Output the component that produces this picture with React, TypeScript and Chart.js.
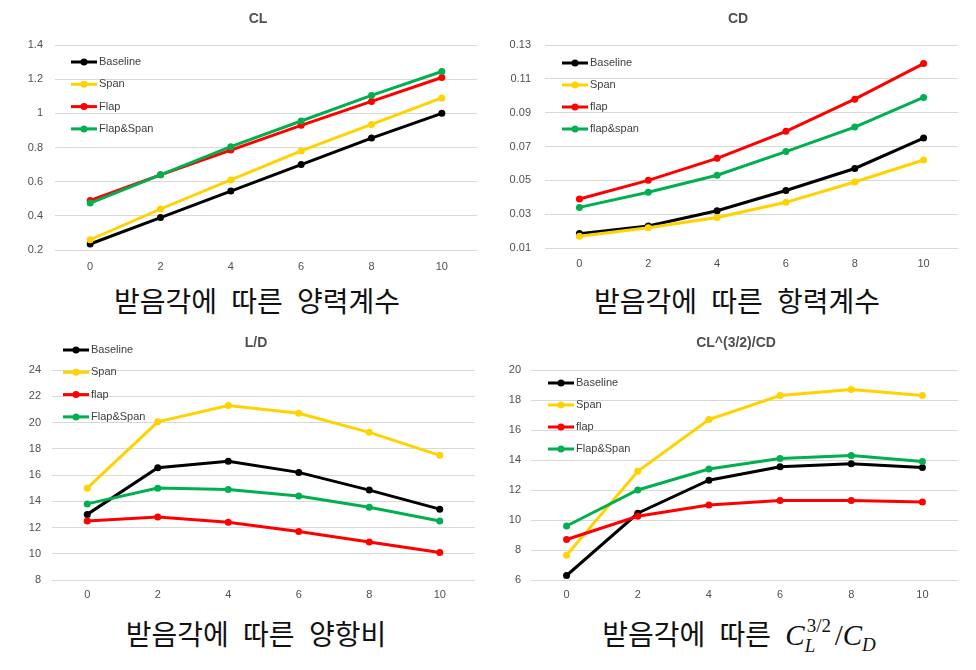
import React, { useEffect, useRef } from 'react';
import { Chart, registerables } from 'chart.js';
Chart.register(...registerables);

// ---------- data ----------
const angles = ['0', '2', '4', '6', '8', '10'];

const clBaseline = [0.235, 0.39, 0.545, 0.7, 0.855, 1.0];
const clSpan = [0.26, 0.44, 0.61, 0.78, 0.935, 1.09];
const clFlap = [0.49, 0.64, 0.785, 0.93, 1.07, 1.21];
const clFlapSpan = [0.475, 0.64, 0.805, 0.955, 1.105, 1.245];
const clTicks = [0.2, 0.4, 0.6, 0.8, 1, 1.2, 1.4];
const clLabels = ['Baseline', 'Span', 'Flap', 'Flap&Span'];

const cdBaseline = [0.0185, 0.023, 0.032, 0.044, 0.057, 0.075];
const cdSpan = [0.017, 0.022, 0.028, 0.037, 0.049, 0.062];
const cdFlap = [0.039, 0.05, 0.063, 0.079, 0.098, 0.119];
const cdFlapSpan = [0.034, 0.043, 0.053, 0.067, 0.0815, 0.099];
const cdTicks = [0.01, 0.03, 0.05, 0.07, 0.09, 0.11, 0.13];
const cdLabels = ['Baseline', 'Span', 'flap', 'flap&span'];

const ldBaseline = [13.0, 16.55, 17.05, 16.2, 14.85, 13.4];
const ldSpan = [15.0, 20.05, 21.3, 20.7, 19.25, 17.5];
const ldFlap = [12.5, 12.8, 12.4, 11.7, 10.9, 10.1];
const ldFlapSpan = [13.8, 15.0, 14.9, 14.4, 13.55, 12.5];
const ldTicks = [8, 10, 12, 14, 16, 18, 20, 22, 24];
const ldLabels = ['Baseline', 'Span', 'flap', 'Flap&Span'];

const ecBaseline = [6.3, 10.45, 12.65, 13.55, 13.75, 13.5];
const ecSpan = [7.65, 13.25, 16.7, 18.3, 18.7, 18.3];
const ecFlap = [8.7, 10.25, 11.0, 11.3, 11.3, 11.2];
const ecFlapSpan = [9.6, 12.0, 13.4, 14.1, 14.3, 13.9];
const ecTicks = [6, 8, 10, 12, 14, 16, 18, 20];
const ecLabels = ['Baseline', 'Span', 'flap', 'Flap&Span'];

// ---------- styling ----------
const COLORS = ['#000000', '#FFD200', '#FF0000', '#00B050'];
const TICK_FONT = { family: "'Liberation Sans', Arial, sans-serif", size: 11 };
const TICK_COLOR = '#505050';

type Cfg = {
  left: number; top: number; w: number; h: number;
  title: string; titleX: number; titleY: number;
  padTop: number; padRight: number;
  yWidth: number; yPad: number; xHeight: number; xPad: number;
  legendX: number; legendY: number; legendGap: number;
  series: number[][]; labels: string[]; ticks: number[];
};

const panels: Cfg[] = [
  {
    left: 0, top: 0, w: 488, h: 280, title: 'CL', titleX: 258, titleY: 19,
    padTop: 45, padRight: 11, yWidth: 55, yPad: 12, xHeight: 30, xPad: 10,
    legendX: 71, legendY: 62, legendGap: 22.3,
    series: [clBaseline, clSpan, clFlap, clFlapSpan], labels: clLabels, ticks: clTicks,
  },
  {
    left: 488, top: 0, w: 488, h: 280, title: 'CD', titleX: 250, titleY: 19,
    padTop: 45, padRight: 18, yWidth: 57, yPad: 14, xHeight: 32, xPad: 9.5,
    legendX: 74, legendY: 63, legendGap: 22,
    series: [cdBaseline, cdSpan, cdFlap, cdFlapSpan], labels: cdLabels, ticks: cdTicks,
  },
  {
    left: 0, top: 330, w: 488, h: 280, title: 'L/D', titleX: 256, titleY: 13,
    padTop: 40, padRight: 13, yWidth: 52, yPad: 11, xHeight: 30, xPad: 8.5,
    legendX: 63, legendY: 20, legendGap: 22.3,
    series: [ldBaseline, ldSpan, ldFlap, ldFlapSpan], labels: ldLabels, ticks: ldTicks,
  },
  {
    left: 488, top: 330, w: 488, h: 280, title: 'CL^(3/2)/CD', titleX: 248, titleY: 13,
    padTop: 40, padRight: 18, yWidth: 43, yPad: 10, xHeight: 30, xPad: 8.5,
    legendX: 60, legendY: 53, legendGap: 22,
    series: [ecBaseline, ecSpan, ecFlap, ecFlapSpan], labels: ecLabels, ticks: ecTicks,
  },
];

function Panel({ cfg }: { cfg: Cfg }) {
  const ref = useRef<HTMLCanvasElement>(null);
  useEffect(() => {
    const overlay = {
      id: 'overlay',
      afterDraw(chart: any) {
        const ctx = chart.ctx as CanvasRenderingContext2D;
        ctx.save();
        ctx.fillStyle = '#505050';
        ctx.font = "bold 14px 'Liberation Sans', Arial, sans-serif";
        ctx.textAlign = 'center';
        ctx.textBaseline = 'middle';
        ctx.fillText(cfg.title, cfg.titleX, cfg.titleY);
        cfg.labels.forEach((lab, i) => {
          const y = cfg.legendY + i * cfg.legendGap;
          const x = cfg.legendX;
          ctx.strokeStyle = COLORS[i];
          ctx.lineWidth = 3;
          ctx.beginPath();
          ctx.moveTo(x, y);
          ctx.lineTo(x + 26, y);
          ctx.stroke();
          ctx.fillStyle = COLORS[i];
          ctx.beginPath();
          ctx.arc(x + 13, y, 3.5, 0, Math.PI * 2);
          ctx.fill();
          ctx.fillStyle = '#404040';
          ctx.font = "11px 'Liberation Sans', Arial, sans-serif";
          ctx.textAlign = 'left';
          ctx.fillText(lab, x + 28, y);
        });
        ctx.restore();
      },
    };
    const chart = new Chart(ref.current!, {
      type: 'line',
      data: {
        labels: angles,
        datasets: cfg.series.map((s, i) => ({
          label: cfg.labels[i],
          data: s,
          borderColor: COLORS[i],
          backgroundColor: COLORS[i],
          pointBackgroundColor: COLORS[i],
          pointBorderColor: COLORS[i],
          borderWidth: 3,
          pointRadius: 3.5,
          pointBorderWidth: 0,
          tension: 0,
          order: 4 - i,
        })),
      },
      options: {
        responsive: false,
        animation: false,
        layout: { padding: { left: 0, top: cfg.padTop, right: cfg.padRight, bottom: 0 } },
        plugins: { legend: { display: false }, title: { display: false }, tooltip: { enabled: false } },
        scales: {
          x: {
            type: 'category',
            offset: true,
            grid: { display: false, drawTicks: false },
            border: { display: false },
            ticks: { padding: cfg.xPad, color: TICK_COLOR, font: TICK_FONT, maxRotation: 0 },
            afterFit: (s: any) => { s.height = cfg.xHeight; },
          },
          y: {
            min: cfg.ticks[0],
            max: cfg.ticks[cfg.ticks.length - 1],
            grid: { color: '#d9d9d9', drawTicks: false, lineWidth: 1 },
            border: { display: false },
            ticks: { padding: cfg.yPad, color: TICK_COLOR, font: TICK_FONT, callback: (v: any) => String(v) },
            afterBuildTicks: (s: any) => { s.ticks = cfg.ticks.map((v) => ({ value: v })); },
            afterFit: (s: any) => { s.width = cfg.yWidth; },
          },
        },
      } as any,
      plugins: [overlay],
    });
    return () => chart.destroy();
  }, []);
  return (
    <canvas
      ref={ref}
      width={cfg.w}
      height={cfg.h}
      style={{ position: 'absolute', left: cfg.left, top: cfg.top, width: cfg.w, height: cfg.h }}
    />
  );
}

const subStyle: React.CSSProperties = {
  position: 'absolute',
  width: 440,
  textAlign: 'center',
  fontFamily: "'Noto Sans CJK KR', sans-serif",
  fontSize: 28,
  lineHeight: '30px',
  color: '#111',
  whiteSpace: 'pre',
  wordSpacing: 8,
};

const mathFont = "'Liberation Serif', 'DejaVu Serif', serif";

export default function App() {
  return (
    <div style={{ position: 'absolute', left: 0, top: 0, width: 976, height: 670, background: '#fff', overflow: 'hidden' }}>
      {panels.map((p, i) => (
        <Panel key={i} cfg={p} />
      ))}
      <div style={{ ...subStyle, left: 257 - 220, top: 285 }}>받음각에 따른 양력계수</div>
      <div style={{ ...subStyle, left: 737 - 220, top: 285 }}>받음각에 따른 항력계수</div>
      <div style={{ ...subStyle, left: 256 - 220, top: 618 }}>받음각에 따른 양항비</div>
      <div style={{ ...subStyle, left: 739 - 220, top: 618 }}>
        받음각에 따른{' '}
        <span style={{ fontFamily: mathFont, fontSize: 29, wordSpacing: 0 }}>
          <i>C</i>
          <span style={{ display: 'inline-block', position: 'relative', width: 30, height: 20, verticalAlign: 'baseline' }}>
            <span style={{ position: 'absolute', left: 2, top: -14, fontSize: 19 }}>3/2</span>
            <i style={{ position: 'absolute', left: 0, top: 6, fontSize: 19 }}>L</i>
          </span>
          <span>/</span>
          <i>C</i>
          <i style={{ fontSize: 19, position: 'relative', top: 6 }}>D</i>
        </span>
      </div>
    </div>
  );
}
